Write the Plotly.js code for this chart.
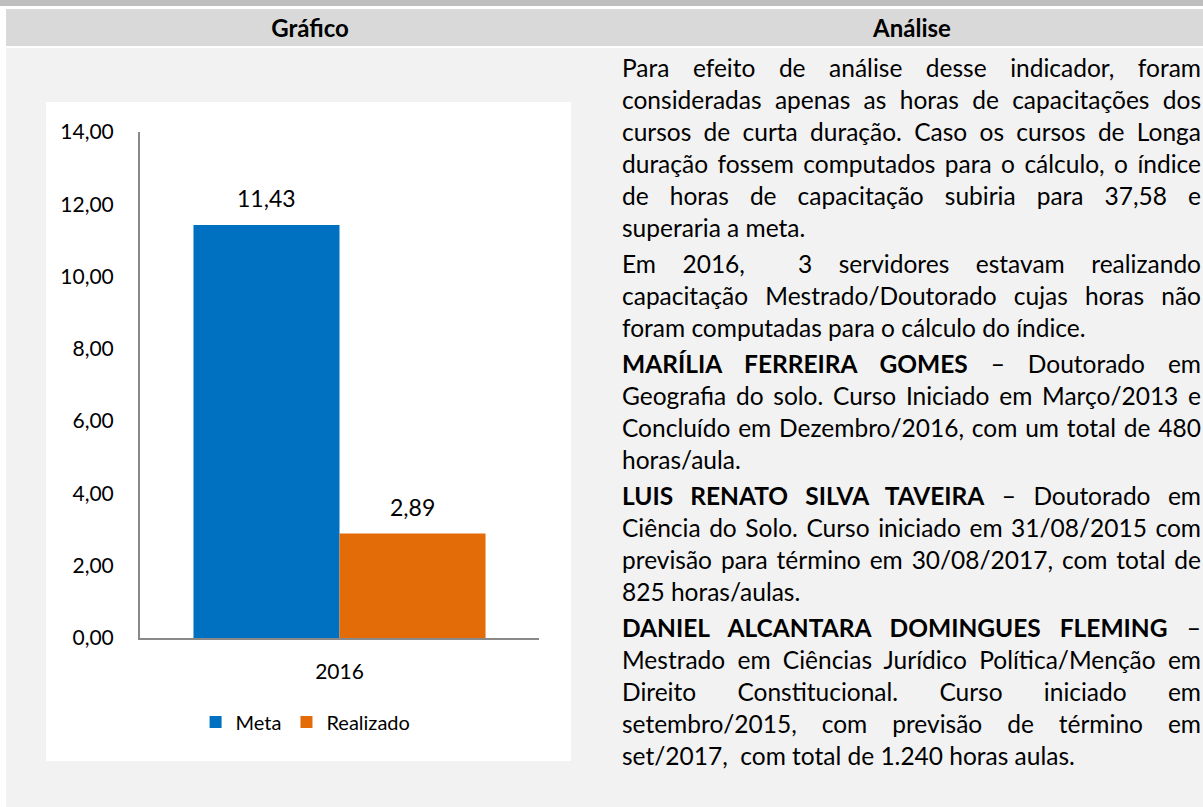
<!DOCTYPE html>
<html>
<head>
<meta charset="utf-8">
<script src="https://cdn.plot.ly/plotly-3.0.1.min.js"></script>
<style>
  html, body { margin:0; padding:0; }
  body { width:1203px; height:807px; position:relative; overflow:hidden; background:#ffffff; font-family: Lato, "Open Sans", sans-serif; color:#000; }
  .abs { position:absolute; }
  #topband { left:0; top:0; width:1203px; height:6px; background:#bfbfbf; }
  #header { left:6px; top:9px; width:1197px; height:37px; background:#d9d9d9; }
  .hdr { top:9px; height:37px; line-height:37px; text-align:center; font-weight:bold; font-size:24px; }
  #bodybg { left:6px; top:48px; width:1197px; height:759px; background:#f2f2f2; }
  #chart { left:46px; top:102px; width:525px; height:659px; }
  #analysis { left:622px; top:52px; width:579px; font-size:24.5px; line-height:32px; }
  .p { margin:0 0 4px 0; }
  .j { text-align:justify; text-align-last:justify; }
  .l { text-align:left; }
</style>
</head>
<body>
<div id="topband" class="abs"></div>
<div id="header" class="abs"></div>
<div class="abs hdr" style="left:6px;width:608px;">Gráfico</div>
<div class="abs hdr" style="left:622px;width:580px;">Análise</div>
<div id="bodybg" class="abs"></div>
<div id="chart" class="abs"></div>
<div id="analysis" class="abs">
  <div class="p">
    <div class="j">Para efeito de análise desse indicador, foram</div>
    <div class="j">consideradas apenas as horas de capacitações dos</div>
    <div class="j">cursos de curta duração. Caso os cursos de Longa</div>
    <div class="j">duração fossem computados para o cálculo, o índice</div>
    <div class="j">de horas de capacitação subiria para 37,58 e</div>
    <div class="l">superaria a meta.</div>
  </div>
  <div class="p">
    <div class="j">Em 2016,&nbsp; 3 servidores estavam realizando</div>
    <div class="j">capacitação Mestrado/Doutorado cujas horas não</div>
    <div class="l">foram computadas para o cálculo do índice.</div>
  </div>
  <div class="p">
    <div class="j"><b>MARÍLIA FERREIRA GOMES</b> – Doutorado em</div>
    <div class="j">Geografia do solo. Curso Iniciado em Março/2013 e</div>
    <div class="j">Concluído em Dezembro/2016, com um total de 480</div>
    <div class="l">horas/aula.</div>
  </div>
  <div class="p">
    <div class="j"><b>LUIS RENATO SILVA TAVEIRA</b> – Doutorado em</div>
    <div class="j">Ciência do Solo. Curso iniciado em 31/08/2015 com</div>
    <div class="j">previsão para término em 30/08/2017, com total de</div>
    <div class="l">825 horas/aulas.</div>
  </div>
  <div class="p">
    <div class="j"><b>DANIEL ALCANTARA DOMINGUES FLEMING</b> –</div>
    <div class="j">Mestrado em Ciências Jurídico Política/Menção em</div>
    <div class="j">Direito Constitucional. Curso iniciado em</div>
    <div class="j">setembro/2015, com previsão de término em</div>
    <div class="l">set/2017,&nbsp; com total de 1.240 horas aulas.</div>
  </div>
</div>
<script>
// ---- data ----
const categories = ["2016"];
const seriesNames = ["Meta", "Realizado"];
const metaValues = [11.43];
const realizadoValues = [2.89];
const seriesColors = ["#0070C0", "#E36C09"];
const yTickValues = [0, 2, 4, 6, 8, 10, 12, 14];

function fmt(v) { return v.toFixed(2).replace('.', ','); }

const allSeries = [metaValues, realizadoValues];
const traces = allSeries.map((vals, i) => ({
  type: 'bar',
  name: seriesNames[i],
  x: categories,
  y: vals,
  marker: { color: seriesColors[i] },
  textposition: 'none',
  hoverinfo: 'skip'
}));

const shifts = [-73, 73];
const annotations = [];
allSeries.forEach((vals, i) => {
  vals.forEach((v, k) => {
    annotations.push({
      x: k, y: v, xref: 'x', yref: 'y',
      text: fmt(v), showarrow: false,
      xshift: shifts[i], yshift: 27, yanchor: 'middle',
      font: { family: 'Lato', size: 23, color: '#000' }
    });
  });
});

const layout = {
  width: 525, height: 659,
  margin: { l: 94, r: 32, t: 30, b: 123, pad: 0 },
  paper_bgcolor: '#ffffff', plot_bgcolor: '#ffffff',
  separators: ',.',
  font: { family: 'Lato', size: 21, color: '#000' },
  barmode: 'group', bargap: 0.268, bargroupgap: 0,
  showlegend: true,
  legend: {
    orientation: 'h', x: 0.415, xanchor: 'center', y: -0.166, yanchor: 'middle',
    font: { family: 'Lato', size: 20, color: '#000' }, itemwidth: 30, tracegroupgap: 0
  },
  xaxis: {
    type: 'category', categoryarray: categories, range: [-0.5, categories.length - 0.5],
    showline: true, linecolor: '#898989', linewidth: 2,
    ticks: '', showgrid: false, zeroline: false, ticklabelstandoff: 14,
    tickfont: { family: 'Lato', size: 21, color: '#000' }, fixedrange: true
  },
  yaxis: {
    range: [0, 14], tickvals: yTickValues, tickformat: '.2f',
    showline: true, linecolor: '#898989', linewidth: 2,
    ticks: '', showgrid: false, zeroline: false, ticklabelstandoff: 20,
    tickfont: { family: 'Lato', size: 21, color: '#000' }, fixedrange: true
  },
  annotations: annotations
};

Plotly.newPlot('chart', traces, layout, { displayModeBar: false, staticPlot: true });
</script>
</body>
</html>
